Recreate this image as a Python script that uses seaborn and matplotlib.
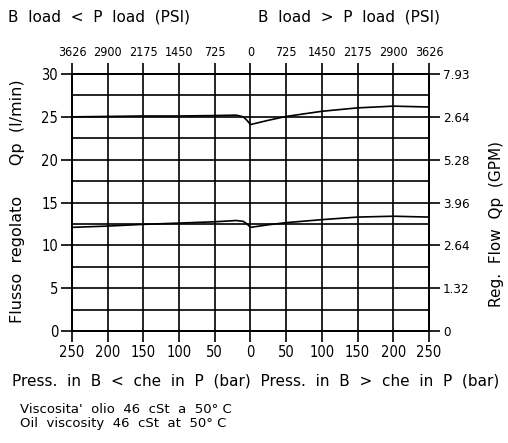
import matplotlib
matplotlib.use('Agg')
import matplotlib.pyplot as plt
import seaborn as sns
import pandas as pd
import numpy as np

# pressure (bar), negative = B < P, positive = B > P
press_bar = [-250, -200, -150, -100, -50, -20, -10, -5, 0, 25, 50, 100, 150, 200, 250]
flow_high = [25.0, 25.05, 25.1, 25.1, 25.15, 25.2, 25.0, 24.6, 24.1, 24.6, 25.05, 25.65, 26.05, 26.25, 26.15]
flow_low = [12.1, 12.25, 12.45, 12.6, 12.75, 12.9, 12.8, 12.5, 12.1, 12.4, 12.65, 13.0, 13.3, 13.4, 13.3]

bar_ticks = [-250, -200, -150, -100, -50, 0, 50, 100, 150, 200, 250]
bar_labels = ['250', '200', '150', '100', '50', '0', '50', '100', '150', '200', '250']
psi_labels = ['3626', '2900', '2175', '1450', '725', '0', '725', '1450', '2175', '2900', '3626']
lpm_ticks = [0, 5, 10, 15, 20, 25, 30]
gpm_labels = ['0', '1.32', '2.64', '3.96', '5.28', '2.64', '7.93']

sns.set_style('white')
plt.rcParams['font.family'] = ['DejaVu Sans']
plt.rcParams['text.color'] = 'black'
plt.rcParams['xtick.color'] = 'black'
plt.rcParams['ytick.color'] = 'black'

df = pd.DataFrame({'bar': press_bar * 2,
                   'flow': flow_high + flow_low,
                   'curve': ['high'] * len(press_bar) + ['low'] * len(press_bar)})

fig = plt.figure(figsize=(5.08, 4.43), dpi=100)
ax = fig.add_axes([0.1417, 0.2528, 0.7028, 0.5801])

sns.lineplot(data=df, x='bar', y='flow', units='curve', estimator=None,
             color='black', lw=1.2, ax=ax, legend=False)

tick_font = dict(family='DejaVu Sans', stretch='condensed')

ax.set_xlim(-250, 250)
ax.set_ylim(0, 30)
ax.set_xticks(bar_ticks)
ax.set_xticklabels(bar_labels, fontsize=10.5, **tick_font)
ax.set_yticks(lpm_ticks)
ax.set_yticklabels([str(v) for v in lpm_ticks], fontsize=10.5, **tick_font)
ax.set_yticks(np.arange(2.5, 30, 5), minor=True)
ax.grid(which='both', color='black', lw=1.2)
ax.tick_params(which='major', direction='out', length=8, width=1.2, color='black', pad=2)
ax.tick_params(which='minor', length=0)
ax.set_xlabel('')
ax.set_ylabel('')
for s in ax.spines.values():
    s.set_color('black')
    s.set_linewidth(1.2)

top = ax.twiny()
top.set_xlim(-250, 250)
top.set_xticks(bar_ticks)
top.set_xticklabels(psi_labels, fontsize=9, **tick_font)
top.tick_params(direction='out', length=8, width=1.2, color='black', pad=3)

right = ax.twinx()
right.set_ylim(0, 30)
right.set_yticks(lpm_ticks)
right.set_yticklabels(gpm_labels, fontsize=9.5, **tick_font)
right.tick_params(direction='out', length=8, width=1.2, color='black', pad=2)
for a in (top, right):
    for s in a.spines.values():
        s.set_color('black')
        s.set_linewidth(1.2)

fig.text(0.016, 0.962, 'B  load  <  P  load  (PSI)', fontsize=11, va='center', ha='left')
fig.text(0.508, 0.962, 'B  load  >  P  load  (PSI)', fontsize=11, va='center', ha='left')
fig.text(0.504, 0.14, 'Press.  in  B  <  che  in  P  (bar)  Press.  in  B  >  che  in  P  (bar)',
         fontsize=11, va='center', ha='center')
fig.text(0.04, 0.0767, "Viscosita'  olio  46  cSt  a  50° C", fontsize=9.5, va='center', ha='left')
fig.text(0.04, 0.0429, "Oil  viscosity  46  cSt  at  50° C", fontsize=9.5, va='center', ha='left')
fig.text(0.035, 0.545, 'Flusso  regolato      Qp  (l/min)', fontsize=11.5, rotation=90,
         va='center', ha='center')
fig.text(0.978, 0.495, 'Reg.  Flow  Qp  (GPM)', fontsize=11, rotation=90,
         va='center', ha='center')

fig.savefig('out.png', dpi=100)
